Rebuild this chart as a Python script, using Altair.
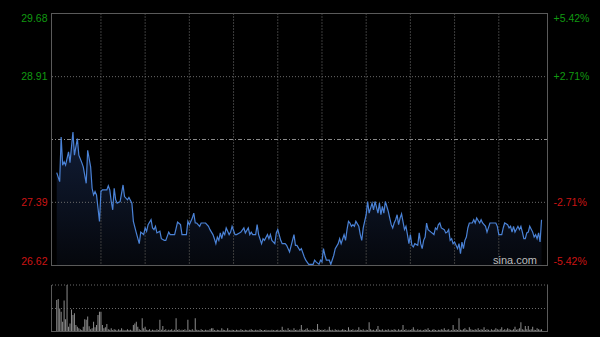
import altair as alt
import pandas as pd

# ---------------- data ----------------
prev_close = 28.15
price_ticks = [29.68, 28.91, 27.39, 26.62]
pct_labels = ["+5.42%", "+2.71%", "-2.71%", "-5.42%"]
grid_prices = [28.91, 28.15, 27.39]
grid_kind = ["grid", "close", "grid"]
time_grid = [30, 60, 90, 120, 150, 180, 210, 240, 270, 300]

minutes = [
    0, 2, 3, 4, 5, 6, 8, 9, 11, 12, 14, 15, 17, 18, 20, 21, 22, 23, 24, 25,
    26, 27, 28, 29, 30, 31, 34, 35, 36, 37, 38, 39, 40, 41, 43, 45, 46, 48, 49, 51,
    52, 54, 56, 57, 59, 60, 61, 62, 64, 65,
    66, 67, 68, 70, 71, 73, 74, 76, 77, 80, 82, 84, 85, 88, 89, 90, 92, 93, 94, 95,
    97, 98, 101, 103, 104, 106, 107, 108, 109, 110, 111, 112, 113, 114, 115, 117, 118, 119, 121, 122,
    124, 125, 127, 128, 130, 131,
    132, 133, 135, 136, 137, 139, 140, 141, 143, 144, 145, 146, 148, 149, 150, 152, 153, 155, 156, 158,
    160, 161, 162, 163, 165, 166, 168, 169, 171, 174, 175, 176, 178, 179, 180, 181, 182, 183, 185, 186,
    188, 189, 191, 192, 193, 195, 196, 197, 198,
    199, 200, 201, 202, 203, 205, 206, 207, 208, 210, 211, 212, 214, 215, 216, 218, 219, 220, 221, 222,
    223, 225, 226, 227, 228, 229, 230, 231, 232, 233, 234, 236, 237, 238, 239, 240, 241, 242, 243, 245,
    246, 247, 248, 249, 250, 251, 252, 254, 256, 257, 258, 259, 260, 261, 263, 264,
    265, 266, 267, 268, 269, 270, 272, 273, 274, 275, 276, 277, 278, 279, 280, 282, 283, 284, 285, 287,
    288, 289, 291, 292, 294, 298, 299, 300, 302, 303, 304, 306, 307, 308, 309, 310, 311, 313, 314, 315,
    316, 317, 318, 319, 320, 321, 323, 324, 325, 326, 327, 328, 329,
]
prices = [
    27.75, 27.64, 28.18, 27.84, 27.88, 27.84, 28.00, 27.87, 28.24, 27.96, 28.16, 27.96, 27.87, 27.82, 27.62, 28.02, 27.92, 27.82, 27.56, 27.48,
    27.52, 27.48, 27.32, 27.16, 27.52, 27.54, 27.54, 27.59, 27.54, 27.40, 27.30, 27.56, 27.42, 27.38, 27.40, 27.60, 27.46, 27.42, 27.45, 27.38,
    27.16, 27.02, 26.89, 27.03, 27.00, 27.08, 27.04, 27.12, 27.18, 27.08,
    27.06, 27.10, 27.02, 27.04, 26.95, 26.93, 26.93, 27.03, 27.00, 27.00, 27.15, 27.12, 27.00, 27.00, 27.16, 27.12, 27.20, 27.26, 27.14, 27.14,
    27.10, 27.14, 27.14, 27.10, 27.06, 27.00, 26.95, 26.89, 26.97, 26.93, 27.02, 26.95, 27.03, 27.00, 27.08, 27.00, 27.03, 27.10, 27.00, 27.00,
    27.02, 27.03, 27.08, 27.02, 27.08, 27.00,
    27.03, 27.00, 27.00, 27.12, 27.00, 26.89, 26.95, 26.93, 27.00, 26.95, 27.00, 26.93, 26.89, 27.02, 27.06, 26.93, 26.89, 26.89, 26.87, 26.79,
    26.93, 27.00, 26.87, 26.87, 26.81, 26.83, 26.73, 26.69, 26.64, 26.64, 26.69, 26.67, 26.64, 26.69, 26.67, 26.83, 26.75, 26.69, 26.69, 26.64,
    26.75, 26.83, 26.89, 26.95, 26.89, 27.00, 26.93, 27.06, 27.16,
    27.14, 27.10, 27.12, 27.10, 27.16, 27.10, 27.00, 26.93, 27.08, 27.24, 27.40, 27.26, 27.38, 27.30, 27.40, 27.26, 27.38, 27.24, 27.34, 27.26,
    27.40, 27.28, 27.20, 27.12, 27.08, 27.14, 27.18, 27.24, 27.12, 27.20, 27.25, 27.06, 27.10, 27.00, 26.89, 27.00, 26.87, 26.85, 26.89, 26.87,
    27.02, 26.89, 26.83, 26.93, 26.97, 27.14, 27.06, 27.03, 27.00, 27.08, 27.06, 27.12, 27.14, 27.08, 27.06, 27.02,
    27.03, 27.06, 26.93, 26.95, 26.89, 26.91, 26.83, 26.89, 26.77, 26.91, 26.83, 26.93, 26.97, 27.08, 27.14, 27.14, 27.18, 27.14, 27.20, 27.14,
    27.18, 27.14, 27.10, 27.03, 27.14, 27.14, 27.10, 27.00, 27.00, 27.08, 27.14, 27.12, 27.08, 27.10, 27.03, 27.10, 27.03, 27.10, 27.06, 27.10,
    27.03, 26.95, 26.95, 27.02, 27.03, 27.10, 27.03, 26.97, 27.00, 26.95, 27.02, 26.91, 27.18,
]

# volume per minute, as share of the volume panel's full height
volumes = [
    68, 70, 50, 43, 22, 67, 27, 100, 11, 18, 48, 36, 40, 15, 11, 8, 6, 4, 11, 27, 26, 33, 12, 6, 8, 22, 10, 15, 36, 43,
    43, 15, 8, 10, 17, 6, 5, 8, 4, 6, 5, 3, 6, 4, 8, 5, 3, 4, 6, 4, 5, 3, 15, 18, 22, 11, 6, 4, 29, 8,
    11, 5, 4, 6, 3, 5, 4, 3, 6, 4, 26, 5, 13, 4, 6, 3, 5, 4, 6, 3, 5, 29, 4, 6, 3, 5, 4, 6, 3, 26,
    5, 4, 6, 3, 29, 5, 4, 3, 6, 4, 3, 5, 4, 3, 6, 8, 8, 4, 3, 5, 4, 3, 8, 5, 4, 3, 8, 4, 3, 5,
    4, 3, 5, 4, 3, 6, 4, 3, 5, 4, 3, 5, 6, 4, 3, 5, 4, 3, 6, 4, 3, 4, 5, 3, 4, 3, 5, 4, 3, 4,
    5, 3, 4, 11, 4, 5, 3, 8, 4, 5, 3, 8, 4, 5, 3, 6, 15, 5, 4, 6, 8, 4, 5, 3, 6, 4, 5, 17, 6, 4,
    5, 4, 6, 3, 5, 11, 4, 5, 3, 6, 4, 5, 3, 4, 6, 5, 4, 3, 10, 5, 4, 6, 3, 5, 4, 10, 5, 4, 6, 3,
    5, 4, 21, 6, 4, 5, 3, 6, 13, 5, 4, 6, 3, 5, 4, 6, 3, 5, 4, 6, 5, 3, 6, 4, 5, 15, 4, 6, 3, 5,
    4, 6, 10, 5, 3, 6, 4, 5, 3, 4, 6, 5, 8, 4, 3, 5, 6, 4, 3, 5, 4, 6, 5, 8, 4, 5, 6, 3, 4, 15,
    5, 6, 4, 29, 5, 4, 6, 8, 5, 4, 10, 6, 5, 4, 6, 5, 8, 4, 6, 5, 10, 4, 6, 5, 3, 6, 4, 5, 8, 6,
    5, 6, 10, 4, 6, 5, 8, 6, 5, 4, 6, 11, 5, 6, 8, 21, 6, 5, 13, 6, 13, 5, 6, 11, 5, 4, 8, 6, 5, 6,
]
vol_grid = [100, 50]

# ---------------- layout / styles ----------------
GREEN = "#119911"
RED = "#cc1414"
LINE = "#4a82d6"
FRAME = "#5a5a5a"
FONT = "Liberation Sans"
W = 497          # plot width
H = 253          # price panel height
GAP = 19         # gap between panels
VH = 47          # volume panel height
TOTAL_H = H + GAP + VH
VTOP = H + GAP

n = min(len(minutes), len(prices))
price_df = pd.DataFrame({"minute": minutes[:n], "price": prices[:n]})
hgrid_df = pd.DataFrame({"price": grid_prices, "kind": grid_kind})
vgrid_df = pd.DataFrame({"minute": time_grid})
vol_df = pd.DataFrame({"minute": list(range(len(volumes))), "vol": volumes})
vgl_df = pd.DataFrame({"vol": vol_grid})
one = pd.DataFrame({"a": [0]})

x_scale = alt.Scale(domain=[0, 330], nice=False, zero=False)
xv_scale = alt.Scale(domain=[-0.5, 330], nice=False, zero=False)
y_scale = alt.Scale(domain=[min(price_ticks), max(price_ticks)], nice=False, zero=False, range=[H, 0])
v_scale = alt.Scale(domain=[0, 100], nice=False, zero=True, range=[TOTAL_H, VTOP])

color_cond = {"condition": {"test": f"datum.value > {prev_close}", "value": GREEN}, "value": RED}

left_axis = alt.Axis(
    values=price_ticks, orient="left", grid=False, ticks=False, domain=False,
    labelFlush=True, labelPadding=4, format=".2f", labelColor=color_cond, title=None,
)
label_expr = " : ".join(
    f"abs(datum.value - {v}) < 0.001 ? '{l}'" for v, l in zip(price_ticks, pct_labels)
) + " : ''"
right_axis = alt.Axis(
    values=price_ticks, orient="right", grid=False, ticks=False, domain=False,
    labelFlush=True, labelPadding=5, labelExpr=label_expr, labelColor=color_cond, title=None,
)

gradient = alt.Gradient(
    gradient="linear",
    stops=[alt.GradientStop(color="#111d36", offset=0), alt.GradientStop(color="#05070c", offset=1)],
    x1=1, x2=1, y1=0, y2=1,
)

area = alt.Chart(price_df).mark_area(color=gradient).encode(
    x=alt.X("minute:Q", scale=x_scale, axis=None),
    y=alt.Y("price:Q", scale=y_scale, axis=left_axis),
    y2=alt.datum(min(price_ticks)),
)

vgrid = alt.Chart(vgrid_df).mark_rule(color="#3c3c3c", strokeDash=[2, 1], strokeWidth=1).encode(
    x=alt.X("minute:Q", scale=x_scale, axis=None),
    y=alt.value(0), y2=alt.value(H),
)

hgrid = alt.Chart(hgrid_df).mark_rule(strokeWidth=1).encode(
    y=alt.Y("price:Q", scale=y_scale, axis=right_axis),
    color=alt.Color("kind:N", scale=alt.Scale(domain=["grid", "close"], range=["#6a6a6a", "#8a8a8a"]), legend=None),
    strokeDash=alt.StrokeDash("kind:N", scale=alt.Scale(domain=["grid", "close"], range=[[1, 2], [4, 2, 1, 2]]), legend=None),
)

line = alt.Chart(price_df).mark_line(color=LINE, strokeWidth=1.2).encode(
    x=alt.X("minute:Q", scale=x_scale, axis=None),
    y=alt.Y("price:Q", scale=y_scale, axis=None),
)

mark_txt = alt.Chart(pd.DataFrame({"t": ["sina.com"]})).mark_text(
    align="right", baseline="bottom", color="#bdbdbd", fontSize=11, font=FONT
).encode(text="t:N", x=alt.value(W - 11), y=alt.value(H - 0.5))

bars = alt.Chart(vol_df).mark_bar(size=1, color="#8c8c8c").encode(
    x=alt.X("minute:Q", scale=xv_scale, axis=None),
    y=alt.Y("vol:Q", scale=v_scale, axis=None),
)
vgl = alt.Chart(vgl_df).mark_rule(color="#6a6a6a", strokeDash=[1, 2]).encode(
    y=alt.Y("vol:Q", scale=v_scale, axis=None),
)

# panel frames
def hline(y, x1=0, x2=W):
    return alt.Chart(one).mark_rule(color=FRAME).encode(x=alt.value(x1), x2=alt.value(x2), y=alt.value(y))

def vline(x, y1, y2):
    return alt.Chart(one).mark_rule(color=FRAME).encode(x=alt.value(x), y=alt.value(y1), y2=alt.value(y2))

frames = [
    hline(0.5), hline(H - 0.5), vline(0.5, 0, H), vline(W - 0.5, 0, H),
    hline(TOTAL_H - 0.5), vline(0.5, VTOP, TOTAL_H), vline(W - 0.5, VTOP, TOTAL_H),
]

chart = alt.layer(
    area, vgrid, hgrid, line, mark_txt, bars, vgl, *frames
).resolve_scale(y="independent").resolve_axis(y="independent").properties(
    width=W, height=TOTAL_H,
    background="#000000",
    padding={"left": 51, "top": 13, "right": 52, "bottom": 5},
    autosize=alt.AutoSizeParams(type="none"),
).configure_axis(
    labelFont=FONT, labelFontSize=10.5,
).configure_view(stroke="transparent", fill="#000000")

chart.save("out.html", embed_options={"renderer": "svg", "actions": False})
